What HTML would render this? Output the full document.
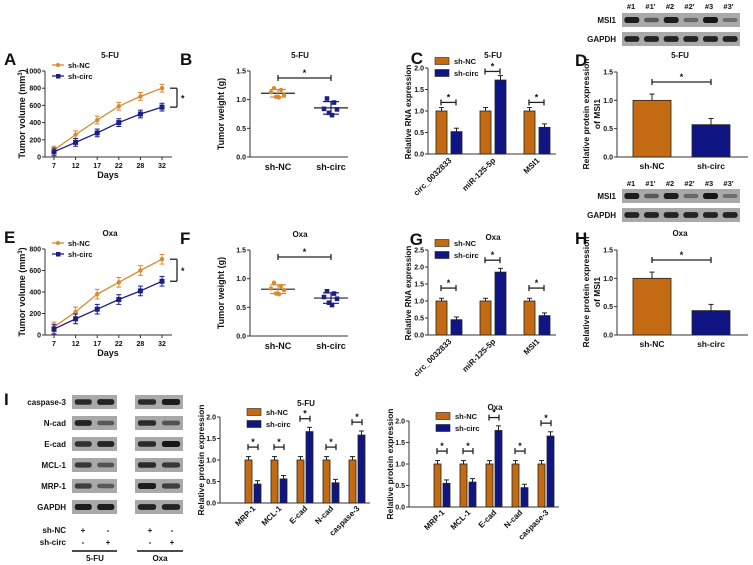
<!DOCTYPE html>
<html><head><meta charset="utf-8"><style>
html,body{margin:0;padding:0;background:#fff;}
svg{display:block;font-family:"Liberation Sans",Arial,sans-serif;font-weight:bold;}
</style></head><body>
<svg id="fig" width="753" height="565" viewBox="0 0 753 565" xmlns="http://www.w3.org/2000/svg"></svg>
<script>
// ---------- data ----------
const days=["7","12","17","22","28","32"];
const volNC5FU=[80,260,430,590,705,800];
const volCirc5FU=[60,170,280,400,500,580];
const volNCOxa=[75,215,380,490,600,705];
const volCircOxa=[55,150,240,330,410,500];
const weightNC5FU=[1.2,1.17,1.13,1.08,1.05,1.04];
const weightCirc5FU=[1.02,0.95,0.84,0.83,0.77,0.73];
const weightNCOxa=[0.93,0.87,0.83,0.8,0.74,0.73];
const weightCircOxa=[0.78,0.74,0.68,0.65,0.58,0.54];
const rnaCats=["circ_0032833","miR-125-5p","MSI1"];
const rnaNC5FU=[1.0,1.0,1.0];
const rnaCirc5FU=[0.52,1.72,0.62];
const rnaNCOxa=[1.0,1.0,1.0];
const rnaCircOxa=[0.45,1.85,0.57];
const msiCats=["sh-NC","sh-circ"];
const msi5FU=[1.0,0.57];
const msiOxa=[1.0,0.43];
const protCats=["MRP-1","MCL-1","E-cad","N-cad","caspase-3"];
const protNC5FU=[1,1,1,1,1];
const protCirc5FU=[0.44,0.56,1.66,0.47,1.58];
const protNCOxa=[1,1,1,1,1];
const protCircOxa=[0.55,0.58,1.78,0.45,1.65];

const OR="#c46a12", NV="#0f1582", ORL="#d98a2e", NVL="#1b1f85";
const NS="http://www.w3.org/2000/svg";
const svg=document.getElementById("fig");
function mk(tag,attrs,parent){const e=document.createElementNS(NS,tag);for(const k in attrs)e.setAttribute(k,attrs[k]);(parent||svg).appendChild(e);return e;}
function grp(name){const g=mk("g",{});


return g;}
function txt(p,x,y,s,size,anchor,name,rot){const t=mk("text",{x:x,y:y,"font-size":size,"text-anchor":anchor||"start",fill:"#111"},p);
if(rot!==undefined)t.setAttribute("transform","rotate("+rot+" "+x+" "+y+")");
t.textContent=s;


return t;}
function line(p,x1,y1,x2,y2,c,w){return mk("line",{x1:x1,y1:y1,x2:x2,y2:y2,stroke:c||"#222","stroke-width":w||1},p);}
function yAxis(p,x,y0,y1,vmax,step,fmt,x2){
  line(p,x,y0,x,y1,"#333",1);line(p,x,y0,x2,y0,"#333",1);
  const sc=v=>y0-(v/vmax)*(y0-y1);
  for(let v=0;v<=vmax+1e-9;v+=step){const yy=sc(v);line(p,x-3,yy,x,yy,"#333",1);txt(p,x-4,yy+2.5,fmt(v),7,"end","y-tick-label");}
  return sc;}
function errbar(p,x,yv,ye,c){line(p,x,yv,x,ye,c,1);line(p,x-2.5,ye,x+2.5,ye,c,1);}
function bracket(p,xa,xb,y,name){const g=mk("g",{},p);


line(g,xa,y,xb,y,"#222",1.3);line(g,xa,y-3,xa,y+3,"#222",1.3);line(g,xb,y-3,xb,y+3,"#222",1.3);txt(g,(xa+xb)/2,y-2,"*",9,"middle","significance-star");}

// ---------- line charts ----------
function lineChart(name,top,vmax,title,nc,ci,letter){
  const p=grp(name);
  const y0=top+86;
  txt(p,4,top-6,letter,17,"start","panel-label-"+letter.toLowerCase());
  txt(p,110,top-13,title,8,"middle","chart-title");
  const sc=yAxis(p,45,y0,top,vmax,200,v=>v,172);
  const xs=i=>54+i*21.6;
  days.forEach((d,i)=>{line(p,xs(i),y0,xs(i),y0+3,"#333",1);txt(p,xs(i),y0+11,d,7,"middle","x-tick-label");});
  txt(p,108,y0+21,"Days",9,"middle","x-axis-title");
  const yl=txt(p,25,top+43,"Tumor volume (mm",9,"middle","y-axis-title",-90);
  const sup=mk("tspan",{"font-size":6,dy:-3},yl);sup.textContent="3";const cl=mk("tspan",{dy:3},yl);cl.textContent=")";
  [[nc,ORL,"sh-nc"],[ci,NVL,"sh-circ"]].forEach(([arr,c,nm])=>{
    const pts=arr.map((v,i)=>xs(i)+","+sc(v)).join(" ");
    const pl=mk("polyline",{points:pts,fill:"none",stroke:c,"stroke-width":1.3},p);
    
    
    arr.forEach((v,i)=>{errbar(p,xs(i),sc(v),sc(v+45),c);errbar(p,xs(i),sc(v),sc(Math.max(0,v-45)),c);
      const m=nm==="sh-nc"?mk("circle",{cx:xs(i),cy:sc(v),r:2.2,fill:c},p):mk("rect",{x:xs(i)-2.5,y:sc(v)-2.5,width:5,height:5,fill:c},p);
      
      });
  });
  const ly=[top-6,top+5];
  [["sh-NC",ORL,0],["sh-circ",NVL,1]].forEach(([s,c,i])=>{const lg=mk("g",{},p);
    
    
    line(lg,52,ly[i],64,ly[i],c,1.3);
    if(i===0)mk("circle",{cx:58,cy:ly[i],r:2,fill:c},lg);else mk("rect",{x:56,y:ly[i]-2,width:4.5,height:4.5,fill:c},lg);
    txt(lg,68,ly[i]+3,s,7.5,"start","legend-label");});
  const ya=sc(nc[5]),yb=sc(ci[5]);
  line(p,170,ya,177,ya,"#222",1.3);line(p,170,yb,177,yb,"#222",1.3);line(p,177,ya,177,yb,"#222",1.3);
  txt(p,181,(ya+yb)/2+4,"*",9,"start","significance-star");
}
lineChart("panel-a-tumor-volume-5fu",71,1000,"5-FU",volNC5FU,volCirc5FU,"A");
lineChart("panel-e-tumor-volume-oxa",249,800,"Oxa",volNCOxa,volCircOxa,"E");

// ---------- scatter ----------
function scatter(name,top,title,nc,ci,letter){
  const p=grp(name);const y0=top+86;
  txt(p,180,top-6,letter,17,"start","panel-label-"+letter.toLowerCase());
  txt(p,300,top-13,title,8,"middle","chart-title");
  const sc=yAxis(p,250,y0,top,1.5,0.5,v=>v.toFixed(1),348);
  txt(p,224,top+43,"Tumor weight (g)",9,"middle","y-axis-title",-90);
  const cx=[278,331];
  msiCats.forEach((c,i)=>txt(p,cx[i],y0+13,c,9,"middle","x-tick-label"));
  [[nc,ORL,0],[ci,NVL,1]].forEach(([arr,c,k])=>{
    const mean=arr.reduce((a,b)=>a+b,0)/arr.length;
    const sd=Math.sqrt(arr.reduce((a,b)=>a+(b-mean)*(b-mean),0)/(arr.length-1));
    const x=cx[k];
    line(p,x-17,sc(mean),x+17,sc(mean),"#222",1.2);
    line(p,x-8,sc(mean+sd),x+8,sc(mean+sd),c,1.2);line(p,x-8,sc(mean-sd),x+8,sc(mean-sd),c,1.2);
    line(p,x,sc(mean-sd),x,sc(mean+sd),c,1.2);
    const offs=[-4,3,-7,6,-2,1];
    arr.forEach((v,i)=>{const m=k===0?mk("circle",{cx:x+offs[i],cy:sc(v),r:2.2,fill:c},p):mk("rect",{x:x+offs[i]-2.3,y:sc(v)-2.3,width:4.6,height:4.6,fill:c},p);
      
      });
  });
  bracket(p,278,331,top+7,"significance-bracket");
}
scatter("panel-b-tumor-weight-5fu",71,"5-FU",weightNC5FU,weightCirc5FU,"B");
scatter("panel-f-tumor-weight-oxa",250,"Oxa",weightNCOxa,weightCircOxa,"F");

// ---------- grouped bars ----------
function bars(p,sc,y0,centers,nc,ci,bw,gap){
  centers.forEach((c,i)=>{
    [[nc[i],OR,c-gap/2-bw,"sh-nc-bar"],[ci[i],NV,c+gap/2,"sh-circ-bar"]].forEach(([v,col,x,nm])=>{
      const ye=sc(v+Math.max(0.08,v*0.06));
      errbar(p,x+bw/2,sc(v),ye,"#222");
      const r=mk("rect",{x:x,y:sc(v),width:bw,height:y0-sc(v),fill:col,stroke:"#222","stroke-width":0.8},p);
      
      
    });});
}
function legendBox(p,x,y,ys){
  [["sh-NC",OR,0],["sh-circ",NV,1]].forEach(([s,c,i])=>{const lg=mk("g",{},p);
    
    
    mk("rect",{x:x,y:y+i*ys-3.5,width:14,height:7,fill:c,stroke:"#222","stroke-width":0.6},lg);
    txt(lg,x+19,y+i*ys+3,s,7.5,"start","legend-label");});
}
function rnaChart(name,top,vmax,title,nc,ci,letter,ax){
  const p=grp(name);
  const yb=vmax===2?top+86:top+85;
  txt(p,ax-5,yb-90,letter,17,"end","panel-label-"+letter.toLowerCase());
  const sc=yAxis(p,ax,yb,top,vmax,0.5,v=>v.toFixed(1),556);
  const centers=rnaCats.map((c,i)=>449+i*44);
  bars(p,sc,yb,centers,nc,ci,11,4);
  rnaCats.forEach((c,i)=>txt(p,centers[i]+3,yb+7,c,8,"end","x-tick-label",-45));
  txt(p,ax-17,yb-42,"Relative RNA expression",8,"middle","y-axis-title",-90);
  return {p,sc,centers,yb};
}
let rc=rnaChart("panel-c-rna-5fu",68,2,"5-FU",rnaNC5FU,rnaCirc5FU,"C",428);
txt(rc.p,493,58,"5-FU",8,"middle","chart-title");legendBox(rc.p,435,61,12);
bracket(rc.p,441,456,rc.sc(1.2),"significance-bracket");bracket(rc.p,485,500,rc.sc(1.92),"significance-bracket");bracket(rc.p,529,544,rc.sc(1.2),"significance-bracket");
rc=rnaChart("panel-g-rna-oxa",250,2.5,"Oxa",rnaNCOxa,rnaCircOxa,"G",428);
txt(rc.p,493,240,"Oxa",8,"middle","chart-title");legendBox(rc.p,435,243,12);
bracket(rc.p,441,456,rc.sc(1.38),"significance-bracket");bracket(rc.p,485,500,rc.sc(2.2),"significance-bracket");bracket(rc.p,529,544,rc.sc(1.38),"significance-bracket");

// ---------- MSI1 protein ----------
function msiChart(name,top,title,vals,letter){
  const p=grp(name);const y0=top+85;
  txt(p,575,top-6,letter,17,"start","panel-label-"+letter.toLowerCase());
  txt(p,680,top-14,title,8,"middle","chart-title");
  const sc=yAxis(p,617,y0,top,1.5,0.5,v=>v.toFixed(1),748);
  const cx=[652,711];
  [[vals[0],OR,0],[vals[1],NV,1]].forEach(([v,c,i])=>{
    errbar(p,cx[i],sc(v),sc(v+0.11),"#222");
    const r=mk("rect",{x:cx[i]-19,y:sc(v),width:38,height:y0-sc(v),fill:c,stroke:"#222","stroke-width":0.8},p);
    
    
    txt(p,cx[i],y0+12,msiCats[i],8.5,"middle","x-tick-label");});
  txt(p,589,top+42,"Relative protein expression",8.5,"middle","y-axis-title",-90);
  txt(p,600,top+42,"of MSI1",8.5,"middle","y-axis-title",-90);
  bracket(p,652,711,top+10,"significance-bracket");
}
msiChart("panel-d-msi1-protein-5fu",72,"5-FU",msi5FU,"D");
msiChart("panel-h-msi1-protein-oxa",250,"Oxa",msiOxa,"H");

// ---------- western blots ----------
function blot(p,x,y,w,h,intens,name){
  const g=mk("g",{},p);
  
  
  mk("rect",{x:x,y:y,width:w,height:h,fill:"#a9a9a9"},g);
  const n=intens.length,bwid=w/n;
  intens.forEach((v,i)=>{const c=Math.round(150-135*v);
    mk("rect",{x:x+i*bwid+bwid*0.12,y:y+h/2-2.6*(0.6+v*0.6),width:bwid*0.76,height:5.2*(0.6+v*0.6),rx:2.5,fill:"rgb("+c+","+c+","+c+")"},g);});
}
const lanes=["#1","#1'","#2","#2'","#3","#3'"];
function msiBlots(name,ly,y1,y2){
  const p=grp(name);
  lanes.forEach((s,i)=>txt(p,631+i*19.5,ly,s,7.5,"middle","lane-label"));
  txt(p,616,y1+10,"MSI1",8,"end","row-label");txt(p,616,y2+10,"GAPDH",8,"end","row-label");
  blot(p,622,y1,118,14,[0.9,0.45,0.9,0.35,0.95,0.3],"msi1-blot");
  blot(p,622,y2,118,14,[0.85,0.85,0.85,0.85,0.85,0.85],"gapdh-blot");
}
msiBlots("msi1-blot-5fu",9,13,32);
msiBlots("msi1-blot-oxa",186,189,208);

const rowsI=["caspase-3","N-cad","E-cad","MCL-1","MRP-1","GAPDH"];
const pI=grp("panel-i-blots");
txt(pI,4,405,"I",17,"start","panel-label-i");
const rowY=[395,416,437,458,479,500];
const fu=[[0.8,0.85],[0.85,0.45],[0.75,0.85],[0.7,0.5],[0.65,0.45],[0.9,0.9]];
const ox=[[0.8,0.9],[0.8,0.5],[0.8,0.95],[0.8,0.7],[0.9,0.65],[0.85,0.85]];
rowsI.forEach((r,i)=>{txt(pI,66,rowY[i]+10,r,8,"end","row-label");
  blot(pI,72,rowY[i],45,14,fu[i],"blot-5fu-"+r);blot(pI,135,rowY[i],48,14,ox[i],"blot-oxa-"+r);});
txt(pI,66,533,"sh-NC",8,"end","row-label");txt(pI,66,545,"sh-circ",8,"end","row-label");
[["+","-","+","-"],["-","+","-","+"]].forEach((arr,j)=>arr.forEach((s,i)=>txt(pI,[83,108,150,172][i],533+12*j,s,8,"middle","treatment-sign")));
line(pI,72,551,117,551,"#111",1.5);line(pI,137,551,183,551,"#111",1.5);
txt(pI,95,561,"5-FU",8,"middle","group-label");txt(pI,160,561,"Oxa",8,"middle","group-label");

function protChart(name,ax,y0,title,nc,ci,c0,lx){
  const p=grp(name);const top=y0-86;
  const sc=yAxis(p,ax,y0,top,2.0,0.5,v=>v.toFixed(1),ax+150);
  const centers=protCats.map((c,i)=>c0+i*26);
  bars(p,sc,y0,centers,nc,ci,7,2);
  protCats.forEach((c,i)=>{txt(p,centers[i]+3,y0+6,c,8,"end","x-tick-label",-45);
    const top2=Math.max(nc[i],ci[i]);bracket(p,centers[i]-5,centers[i]+5,sc(top2+0.3),"significance-bracket");});
  txt(p,ax-16,top+43,"Relative protein expression",8.5,"middle","y-axis-title",-90);
  txt(p,ax+86,top-11,title,8,"middle","chart-title");
  legendBox(p,lx,top-5,12);
}
protChart("panel-i-protein-5fu",220,503,"5-FU",protNC5FU,protCirc5FU,253,247);
protChart("panel-i-protein-oxa",409,507,"Oxa",protNCOxa,protCircOxa,442,436);
</script>
</body></html>
